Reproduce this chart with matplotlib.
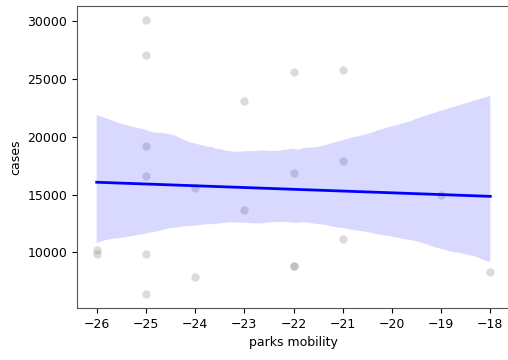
import numpy as np
import pandas as pd
import matplotlib
matplotlib.use("Agg")
import matplotlib.pyplot as plt
import seaborn as sns

# parks mobility vs. daily cases
parks_mobility = [-26, -26,
                  -25, -25, -25, -25, -25, -25,
                  -24, -24,
                  -23, -23,
                  -22, -22, -22, -22,
                  -21, -21, -21,
                  -19,
                  -18]
cases = [10200, 9900,
         30100, 27100, 19200, 16600, 9900, 6400,
         15600, 7900,
         23100, 13700,
         25600, 16900, 8800, 8800,
         25800, 17900, 11200,
         15000,
         8300]

df = pd.DataFrame({"parks mobility": parks_mobility, "cases": cases})

plt.rcParams["font.size"] = 9
fig = plt.figure(figsize=(5.08, 3.6), dpi=100)
ax = fig.add_axes([77 / 508, 52 / 360, 433 / 508, 302 / 360])

sns.regplot(x="parks mobility", y="cases", data=df, ax=ax, seed=3,
            scatter_kws={"color": "grey", "alpha": 0.28, "linewidths": 0},
            line_kws={"color": "blue", "lw": 2})

ax.set_xticks(range(-26, -17))
ax.set_yticks([10000, 15000, 20000, 25000, 30000])
ax.set_xlim(-26.4, -17.6)
ax.set_ylim(5200, 31300)
for s in ax.spines.values():
    s.set_color("#555555")

fig.savefig("out.png", dpi=100)
